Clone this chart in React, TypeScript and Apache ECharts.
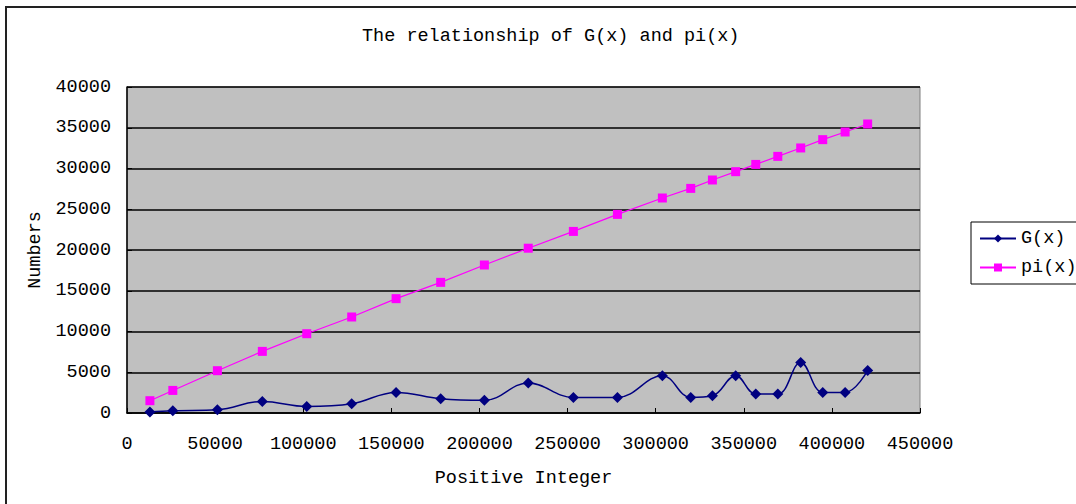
import React, { useEffect, useRef } from "react";
import * as echarts from "echarts";

const xValues = [13000, 26000, 51300, 76800, 102000, 127500, 152700, 178000, 202800, 227700, 253300, 278300, 303800, 319900, 332200, 345400, 356800, 369300, 382300, 394800, 407500, 420300];
const gValues = [120, 280, 400, 1420, 810, 1140, 2530, 1750, 1550, 3680, 1910, 1910, 4580, 1910, 2120, 4580, 2330, 2330, 6210, 2530, 2530, 5230];
const piValues = [1510, 2770, 5190, 7560, 9730, 11780, 14030, 16030, 18160, 20220, 22280, 24370, 26380, 27560, 28590, 29610, 30500, 31490, 32520, 33540, 34480, 35460];
const seriesNames = ["G(x)", "pi(x)"];
const titleText = "The relationship of G(x) and pi(x)";
const xAxisName = "Positive Integer";
const yAxisName = "Numbers";

const FONT = "'Liberation Mono', 'DejaVu Sans Mono', monospace";

export default function App() {
  const ref = useRef<HTMLDivElement>(null);
  useEffect(() => {
    if (!ref.current) return;
    const chart = echarts.init(ref.current, null, { renderer: "svg" });
    const textStyle = { fontFamily: FONT, fontSize: 18.5, color: "#000" };
    chart.setOption({
      animation: false,
      backgroundColor: "#fff",
      title: {
        text: titleText,
        left: 357,
        top: 22,
        textStyle: { ...textStyle, fontWeight: "normal" },
      },
      legend: {
        orient: "vertical",
        left: 971,
        top: 222,
        padding: [7, 40, 7, 8],
        borderColor: "#000",
        borderWidth: 1,
        backgroundColor: "#fff",
        itemWidth: 36,
        itemHeight: 10,
        itemGap: 10,
        textStyle: { ...textStyle, lineHeight: 18 },
        data: seriesNames,
      },
      graphic: [
        {
          type: "rect",
          shape: { x: 6, y: 7, width: 1090, height: 520 },
          style: { fill: "none", stroke: "#222", lineWidth: 2 },
          silent: true,
          z: -1,
        },
      ],
      grid: {
        left: 127,
        top: 87,
        right: 156,
        bottom: 91,
        show: true,
        backgroundColor: "#C0C0C0",
        borderColor: "#808080",
        borderWidth: 1,
      },
      xAxis: {
        type: "value",
        min: 0,
        max: 450000,
        interval: 50000,
        name: xAxisName,
        nameLocation: "middle",
        nameGap: 56,
        nameTextStyle: textStyle,
        axisLine: { show: true, lineStyle: { color: "#000", width: 1.5 } },
        axisTick: { show: true, inside: true, length: 5, lineStyle: { color: "#000" } },
        axisLabel: { ...textStyle, margin: 22, formatter: (v: number) => String(v) },
        splitLine: { show: false },
      },
      yAxis: {
        type: "value",
        min: 0,
        max: 40000,
        interval: 5000,
        name: yAxisName,
        nameLocation: "middle",
        nameRotate: 90,
        nameGap: 81,
        nameTextStyle: textStyle,
        axisLine: { show: true, lineStyle: { color: "#000", width: 1.5 } },
        axisTick: { show: true, inside: true, length: 5, lineStyle: { color: "#000" } },
        axisLabel: {
          ...textStyle,
          margin: 16,
          padding: [6, 0, 0, 0],
          formatter: (v: number) => String(v),
        },
        splitLine: { show: true, lineStyle: { color: "#000", width: 1.5 } },
      },
      series: [
        {
          name: seriesNames[0],
          type: "line",
          data: xValues.map((x, i) => [x, gValues[i]]),
          smooth: 0.4,
          symbol: "diamond",
          symbolSize: 11,
          itemStyle: { color: "#000080" },
          lineStyle: { color: "#000080", width: 1.5 },
          z: 3,
        },
        {
          name: seriesNames[1],
          type: "line",
          data: xValues.map((x, i) => [x, piValues[i]]),
          symbol: "rect",
          symbolSize: 9,
          itemStyle: { color: "#FF00FF" },
          lineStyle: { color: "#FF00FF", width: 1.2 },
          z: 2,
        },
      ],
    });
    return () => chart.dispose();
  }, []);
  return (
    <div
      ref={ref}
      style={{ position: "absolute", left: 0, top: 0, width: 1076, height: 504 }}
    />
  );
}
